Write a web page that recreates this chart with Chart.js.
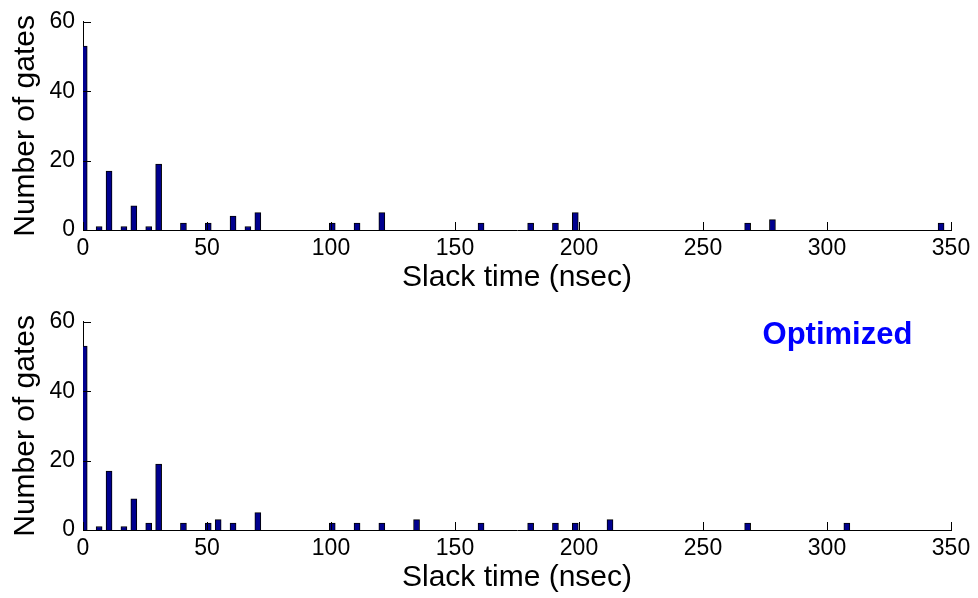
<html>
<head>
<title>Slack time histograms</title>
<style>
  body { margin: 0; background: #fff; }
  canvas { display: block; }
</style>
</head>
<body>
<canvas id="topChart" width="978" height="300"></canvas>
<canvas id="bottomChart" width="978" height="298"></canvas>
<script src="https://cdn.jsdelivr.net/npm/chart.js@4.4.0/dist/chart.umd.min.js"></script>
<script>

// slack time (nsec) at each bar centre and the number of gates in it
const slackBefore = [0.5, 6.5, 10.5, 16.5, 20.5, 26.5, 30.5, 40.5, 50.5, 60.5, 66.5, 70.5,
                     100.5, 110.5, 120.5, 160.5, 180.5, 190.5, 198.5, 268, 278, 346];
const gatesBefore = [53, 1, 17, 1, 7, 1, 19, 2, 2, 4, 1, 5,
                     2, 2, 5, 2, 2, 2, 5, 2, 3, 2];

const slackOptimized = [0.5, 6.5, 10.5, 16.5, 20.5, 26.5, 30.5, 40.5, 50.5, 54.5, 60.5, 70.5,
                        100.5, 110.5, 120.5, 134.5, 160.5, 180.5, 190.5, 198.5, 212.5, 268, 308];
const gatesOptimized = [53, 1, 17, 1, 9, 2, 19, 2, 2, 3, 2, 5,
                        2, 2, 2, 3, 2, 2, 2, 2, 3, 2, 2];

const xTicks = [0, 50, 100, 150, 200, 250, 300, 350];
const yTicks = [0, 20, 40, 60];

const noteText = "Optimized";
const notePos = [274, 56];   // data coords, left-middle

const FONT = "'Liberation Sans', Arial, Helvetica, sans-serif";

// matlab draws its ticks pointing into the axes
const inwardTicks = {
    id: 'inwardTicks',
    afterDraw(chart) {
        const ctx = chart.ctx, area = chart.chartArea;
        const xs = chart.scales.x, ys = chart.scales.y;
        ctx.save();
        ctx.strokeStyle = '#000';
        ctx.lineWidth = 1;
        ctx.beginPath();
        xTicks.forEach(v => {
            let px = Math.round(xs.getPixelForValue(v)) + 0.5;
            ctx.moveTo(px, area.bottom);
            ctx.lineTo(px, area.bottom - 8);
        });
        yTicks.forEach(v => {
            let py = Math.round(ys.getPixelForValue(v)) + 0.5;
            ctx.moveTo(area.left, py);
            ctx.lineTo(area.left + 8, py);
        });
        ctx.stroke();
        ctx.restore();
    }
};

// text label placed at a data position (like matlab's text())
const noteLabel = {
    id: 'noteLabel',
    afterDraw(chart, args, opts) {
        if (!opts || !opts.text) return;
        const ctx = chart.ctx;
        ctx.save();
        ctx.font = "bold 31px " + FONT;
        ctx.fillStyle = '#0000ff';
        ctx.textAlign = 'left';
        ctx.textBaseline = 'middle';
        ctx.fillText(opts.text, chart.scales.x.getPixelForValue(opts.x), chart.scales.y.getPixelForValue(opts.y));
        ctx.restore();
    }
};

function makeChart(id, slack, gates, xAxisHeight, titlePad, note) {
    let points = slack.map((s, i) => ({x: s, y: gates[i]}));
    return new Chart(id, {
        type: 'bar',
        data: {
            datasets: [{
                data: points,
                backgroundColor: '#00008f',
                borderColor: '#000',
                borderWidth: 1,
                borderSkipped: 'start',
                barThickness: 6
            }]
        },
        options: {
            responsive: false,
            animation: false,
            events: [],
            layout: { padding: { left: 0, right: 27, top: 17, bottom: 0 } },
            plugins: {
                legend: { display: false },
                tooltip: { enabled: false },
                noteLabel: note || {}
            },
            scales: {
                x: {
                    type: 'linear',
                    min: 0, max: 350,
                    offset: false,
                    afterBuildTicks: s => { s.ticks = xTicks.map(v => ({value: v})); },
                    afterFit: s => { s.height = xAxisHeight; },
                    grid: { display: false, drawTicks: false, offset: false },
                    border: { display: true, color: '#000', width: 1 },
                    ticks: { color: '#000', padding: 5, maxRotation: 0, font: { family: FONT, size: 23 } },
                    title: {
                        display: true,
                        text: 'Slack time (nsec)',
                        color: '#000',
                        font: { family: FONT, size: 30 },
                        padding: { top: 0, bottom: titlePad }
                    }
                },
                y: {
                    min: 0, max: 60,
                    afterBuildTicks: s => { s.ticks = yTicks.map(v => ({value: v})); },
                    afterFit: s => { s.width = 83; },
                    grid: { display: false, drawTicks: false },
                    border: { display: true, color: '#000', width: 1 },
                    ticks: { color: '#000', padding: 8, font: { family: FONT, size: 23 } },
                    title: {
                        display: true,
                        text: 'Number of gates',
                        color: '#000',
                        font: { family: FONT, size: 30 },
                        padding: { top: 8, bottom: 0 }
                    }
                }
            }
        },
        plugins: [inwardTicks, noteLabel]
    });
}

makeChart('topChart', slackBefore, gatesBefore, 70, 4, null);
makeChart('bottomChart', slackOptimized, gatesOptimized, 68, 2, { text: noteText, x: notePos[0], y: notePos[1] });

</script>
</body>
</html>
